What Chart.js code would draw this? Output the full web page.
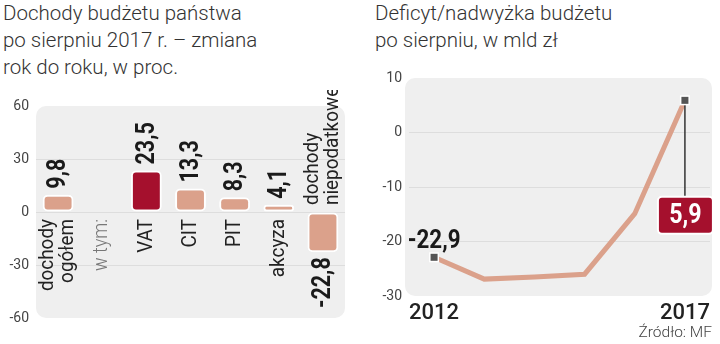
<!DOCTYPE html>
<html>
<head>
<meta charset="utf-8">
<script src="https://cdn.jsdelivr.net/npm/chart.js@4/dist/chart.umd.min.js"></script>
<style>
  body { margin: 0; width: 720px; height: 344px; background: #fff; overflow: hidden; position: relative; }
  .title { position: absolute; font-family: Roboto, sans-serif; font-weight: 300; font-size: 20.5px; line-height: 27px; color: #333; white-space: nowrap; }
  .box { position: absolute; }
  #source { position: absolute; right: 8px; top: 323px; font-family: Roboto, sans-serif; font-weight: 300; font-size: 15.5px; color: #444; }
</style>
</head>
<body>
<div class="title" style="left:3px; top:0px;">Dochody budżetu państwa<br>po sierpniu 2017 r. – zmiana<br>rok do roku, w proc.</div>
<div class="title" style="left:375px; top:0px;">Deficyt/nadwyżka budżetu<br>po sierpniu, w mld zł</div>
<div class="box" style="left:0; top:90px; width:360px; height:254px;"><canvas id="bars"></canvas></div>
<div class="box" style="left:360px; top:60px; width:360px; height:284px;"><canvas id="line"></canvas></div>
<div id="source">Źródło: MF</div>
<script>
// Left chart: revenue change y/y, in percent
const revenueLabels = [['dochody', 'ogółem'], ['w tym:'], ['VAT'], ['CIT'], ['PIT'], ['akcyza'], ['dochody', 'niepodatkowe']];
const revenueChange = [9.8, null, 23.5, 13.3, 8.3, 4.1, -22.8];
const revenueTicks = [-60, -30, 0, 30, 60];

// Right chart: deficit / surplus after August, bln zl
const years = ['2012', '2013', '2014', '2015', '2016', '2017'];
const balance = [-22.9, -26.9, -26.5, -26.0, -14.9, 5.9];
const balanceTicks = [-30, -20, -10, 0, 10];

const SALMON = '#dba18b';
const DARK_RED = '#a5102d';
const PANEL = '#efefef';
const GRID = '#dddddd';
const BOLD = 'bold 25px Roboto, sans-serif';

function roundRect(ctx, x, y, w, h, r) {
    ctx.beginPath();
    ctx.moveTo(x + r, y);
    ctx.arcTo(x + w, y, x + w, y + h, r);
    ctx.arcTo(x + w, y + h, x, y + h, r);
    ctx.arcTo(x, y + h, x, y, r);
    ctx.arcTo(x, y, x + w, y, r);
    ctx.closePath();
}

// text rotated 90deg counter-clockwise, several lines stacked left to right
function vText(ctx, lines, x, y, align, font, color, lineH, squeeze) {
    ctx.save();
    ctx.translate(x, y);
    ctx.rotate(-Math.PI / 2);
    ctx.scale(squeeze || 1, 1);
    ctx.font = font;
    ctx.fillStyle = color;
    ctx.textAlign = align;
    ctx.textBaseline = 'middle';
    const start = -(lines.length - 1) * lineH / 2;
    lines.forEach((t, i) => ctx.fillText(t, 0, start + i * lineH));
    ctx.restore();
}

const panelPlugin = {
    id: 'panel',
    beforeDraw(chart, args, opts) {
        const a = chart.chartArea;
        const ctx = chart.ctx;
        ctx.save();
        ctx.fillStyle = PANEL;
        roundRect(ctx, a.left - (opts.padL || 0), a.top, a.width + (opts.padL || 0) + (opts.padR || 0), a.height, 10);
        ctx.fill();
        ctx.restore();
    }
};

// labels for the bar chart
const barLabels = {
    id: 'barLabels',
    afterDatasetsDraw(chart) {
        const ctx = chart.ctx;
        const xs = chart.scales.x;
        const ys = chart.scales.y;
        const zero = ys.getPixelForValue(0);
        revenueChange.forEach((v, i) => {
            const x = xs.getPixelForValue(i);
            const lines = revenueLabels[i];
            if (v === null) {
                vText(ctx, lines, x, zero + 7, 'right', '300 20px Roboto, sans-serif', '#777', 20, 0.9);
                return;
            }
            const end = ys.getPixelForValue(v);
            const txt = v.toFixed(1).replace('.', ',');
            if (v >= 0) {
                vText(ctx, [txt], x + 1, end - 6, 'left', BOLD, '#1a1a1a', 20, 0.86);
                vText(ctx, lines, x, zero + 7, 'right', '21px Roboto, sans-serif', '#222', 20, 0.9);
            } else {
                vText(ctx, [txt], x + 1, end + 5, 'right', BOLD, '#1a1a1a', 20, 0.86);
                vText(ctx, lines, x, zero - 7, 'left', '21px Roboto, sans-serif', '#222', 20, 0.9);
            }
        });
    }
};

new Chart(document.getElementById('bars'), {
    type: 'bar',
    data: {
        labels: revenueLabels.map(l => l.join(' ')),
        datasets: [{
            data: revenueChange,
            backgroundColor: revenueLabels.map(l => l[0] === 'VAT' ? DARK_RED : SALMON),
            borderColor: '#ffffff',
            borderWidth: 2,
            borderRadius: 5,
            borderSkipped: false,
            barPercentage: 0.7,
            categoryPercentage: 1
        }]
    },
    options: {
        responsive: true,
        maintainAspectRatio: false,
        animation: false,
        layout: { padding: { left: 0, right: 15, top: 16, bottom: 26 } },
        plugins: { legend: { display: false }, tooltip: { enabled: false }, panel: {} },
        scales: {
            x: { display: false },
            y: {
                min: -60, max: 60,
                afterBuildTicks: axis => { axis.ticks = revenueTicks.map(v => ({ value: v })); },
                afterFit: axis => { axis.width = 36; },
                border: { display: false },
                grid: {
                    drawTicks: false,
                    color: c => Math.abs(c.tick.value) === 60 ? 'rgba(0,0,0,0)' : GRID
                },
                ticks: { padding: 7, color: '#444', font: { family: 'Roboto', size: 14 } }
            }
        }
    },
    plugins: [panelPlugin, barLabels]
});

// annotations for the line chart
const lineLabels = {
    id: 'lineLabels',
    afterDatasetsDraw(chart) {
        const ctx = chart.ctx;
        const meta = chart.getDatasetMeta(0);
        const first = meta.data[0];
        const last = meta.data[meta.data.length - 1];
        const ys = chart.scales.y;

        ctx.save();
        ctx.font = 'bold 26px Roboto, sans-serif';
        ctx.fillStyle = '#1a1a1a';
        ctx.textAlign = 'center';
        ctx.textBaseline = 'alphabetic';
        ctx.translate(first.x, first.y - 9);
        ctx.scale(0.86, 1);
        ctx.fillText(balance[0].toFixed(1).replace('.', ','), 0, 0);
        ctx.restore();

        // connector + value box for the last year
        const boxW = 55, boxH = 37;
        const boxCy = ys.getPixelForValue(-15.2);
        const bx = last.x - 27, by = boxCy - boxH / 2;
        ctx.save();
        ctx.strokeStyle = '#333';
        ctx.lineWidth = 1.5;
        ctx.beginPath();
        ctx.moveTo(last.x, last.y);
        ctx.lineTo(last.x, by);
        ctx.stroke();
        roundRect(ctx, bx, by, boxW, boxH, 4);
        ctx.fillStyle = DARK_RED;
        ctx.fill();
        ctx.strokeStyle = '#fff';
        ctx.lineWidth = 2;
        ctx.stroke();
        ctx.font = 'bold 27px Roboto, sans-serif';
        ctx.fillStyle = '#fff';
        ctx.textAlign = 'center';
        ctx.textBaseline = 'middle';
        ctx.translate(bx + boxW / 2, boxCy + 1);
        ctx.scale(0.86, 1);
        ctx.fillText(balance[balance.length - 1].toFixed(1).replace('.', ','), 0, 0);
        ctx.restore();

        // redraw end markers on top of the connector
        [first, last].forEach(p => {
            ctx.save();
            ctx.fillStyle = '#fff';
            ctx.fillRect(p.x - 5, p.y - 5, 10, 10);
            ctx.fillStyle = '#555';
            ctx.fillRect(p.x - 3.5, p.y - 3.5, 7, 7);
            ctx.restore();
        });
    }
};

new Chart(document.getElementById('line'), {
    type: 'line',
    data: {
        labels: years,
        datasets: [{
            data: balance,
            borderColor: SALMON,
            borderWidth: 5,
            tension: 0,
            pointRadius: 0
        }]
    },
    options: {
        responsive: true,
        maintainAspectRatio: false,
        animation: false,
        layout: { padding: { left: 0, right: 10, top: 18, bottom: 8 } },
        plugins: { legend: { display: false }, tooltip: { enabled: false }, panel: { padL: 4, padR: 2 } },
        scales: {
            x: {
                offset: true,
                border: { display: false },
                grid: { display: false },
                afterFit: axis => { axis.height = 40; },
                ticks: {
                    autoSkip: false,
                    maxRotation: 0,
                    padding: -4,
                    color: '#222',
                    font: { family: 'Roboto', size: 22, weight: '500' },
                    callback: (v, i) => (i === 0 || i === years.length - 1) ? years[i] : ''
                }
            },
            y: {
                min: -30, max: 10,
                afterBuildTicks: axis => { axis.ticks = balanceTicks.map(v => ({ value: v })); },
                afterFit: axis => { axis.width = 49; },
                border: { display: false },
                grid: {
                    drawTicks: false,
                    color: c => (c.tick.value === 10 || c.tick.value === -30) ? 'rgba(0,0,0,0)' : GRID
                },
                ticks: { padding: 7, color: '#444', font: { family: 'Roboto', size: 14 } }
            }
        }
    },
    plugins: [panelPlugin, lineLabels]
});
</script>
</body>
</html>
